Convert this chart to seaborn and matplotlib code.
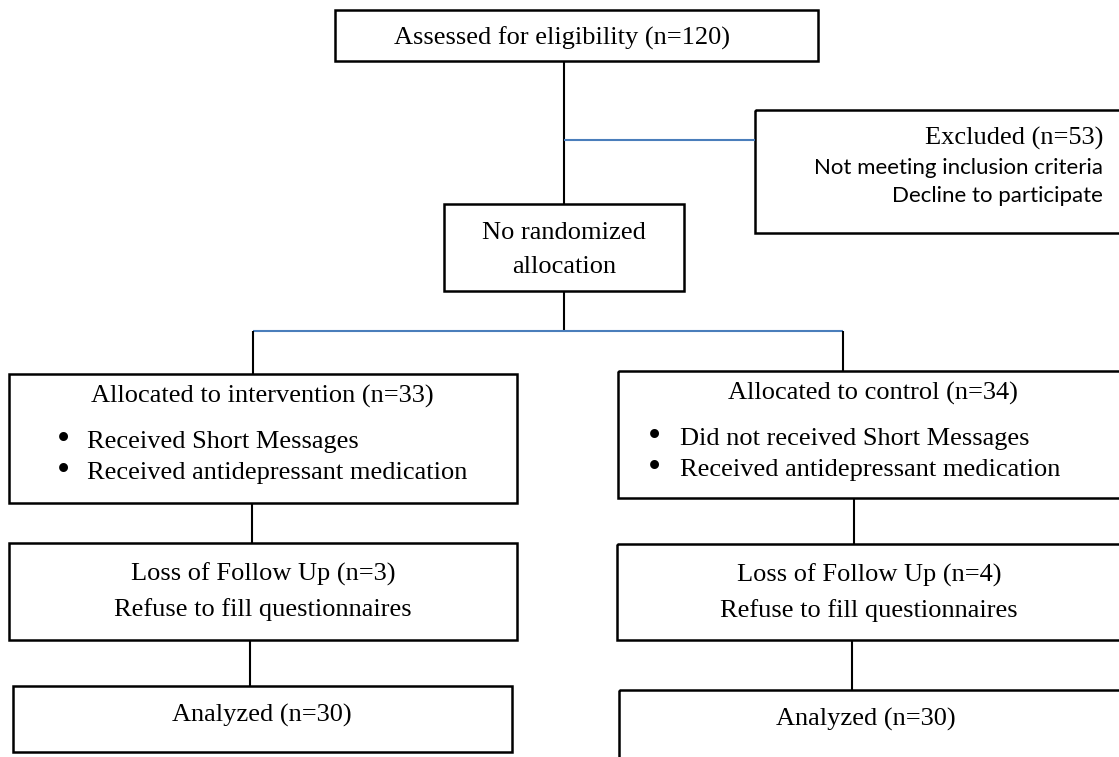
import matplotlib
matplotlib.use("Agg")
import matplotlib.pyplot as plt
from matplotlib.patches import Rectangle
import seaborn as sns

# ---- content (data) ----
n_assessed = 120
n_excluded = 53
excluded_reasons = ["Not meeting inclusion criteria", "Decline to participate"]
allocation_label = ["No randomized", "allocation"]
arm_names = ["intervention", "control"]
arm_n = [33, 34]
arm_items = [["Received Short Messages", "Received antidepressant medication"],
             ["Did not received Short Messages", "Received antidepressant medication"]]
loss_n = [3, 4]
loss_reason = "Refuse to fill questionnaires"
analyzed_n = [30, 30]

sns.set_theme(style="white")
plt.rcParams["font.family"] = ["Liberation Serif", "DejaVu Serif"]

W, H = 1119, 757
fig = plt.figure(figsize=(W / 100, H / 100), dpi=100)
ax = fig.add_axes([0, 0, 1, 1])
ax.set_xlim(0, W)
ax.set_ylim(H, 0)
ax.axis("off")

FS = 19
SANS_FS = 16
BLUE = "#4a7ebb"
BOX_LW = 1.8
LINE_LW = 1.5


def box(x0, y0, x1, y1):
    ax.add_patch(Rectangle((x0, y0), x1 - x0, y1 - y0, fill=False,
                           edgecolor="black", lw=BOX_LW, clip_on=True))


def vline(x, y0, y1, color="black"):
    ax.plot([x, x], [y0, y1], color=color, lw=LINE_LW, solid_capstyle="butt")


def hline(y, x0, x1, color=BLUE):
    ax.plot([x0, x1], [y, y], color=color, lw=LINE_LW, solid_capstyle="butt")


def txt(x, y, s, ha="center", fs=FS, family=None):
    kw = {}
    if family is not None:
        kw["family"] = family
    ax.text(x, y, s, ha=ha, va="baseline", fontsize=fs, color="black", **kw)


# Top box
box(335, 10, 818, 61)
txt(562, 45, f"Assessed for eligibility (n={n_assessed})")

# Connectors from top
vline(564, 61, 204)
hline(140, 564, 755)

# Excluded box
box(755, 110, 1130, 233)
txt(1103, 145, f"Excluded (n={n_excluded})", ha="right")
for i, r in enumerate(excluded_reasons):
    txt(1103, 174 + 28 * i, r, ha="right", fs=SANS_FS, family=["Lato", "DejaVu Sans"])

# No randomized allocation box
box(444, 204, 684, 291)
txt(564, 239, allocation_label[0])
txt(564, 273, allocation_label[1])

vline(564, 291, 331)
hline(331, 253, 843)
vline(253, 331, 374)
vline(843, 331, 371)

# Arms
arm_geom = [
    dict(alloc=(9, 374, 517, 503), tcx=262, bx=63, tx=87,
         v1=252, loss=(9, 543, 517, 640), lcx=263, v2=250,
         ana=(13, 686, 512, 752), acx=262),
    dict(alloc=(618, 371, 1130, 498), tcx=873, bx=654, tx=680,
         v1=854, loss=(617, 544, 1130, 640), lcx=869, v2=852,
         ana=(619, 690, 1130, 770), acx=866),
]

for k, g in enumerate(arm_geom):
    a = g["alloc"]
    box(*a)
    txt(g["tcx"], a[1] + 29, f"Allocated to {arm_names[k]} (n={arm_n[k]})")
    for j, item in enumerate(arm_items[k]):
        yb = a[1] + 74 + 31 * j
        ax.text(g["bx"], yb - 7, "\u2022", ha="center", va="center",
                fontsize=27, color="black")
        txt(g["tx"], yb, item, ha="left")
    vline(g["v1"], a[3], g["loss"][1])
    l = g["loss"]
    box(*l)
    txt(g["lcx"], l[1] + 38, f"Loss of Follow Up (n={loss_n[k]})")
    txt(g["lcx"], l[1] + 73, loss_reason)
    vline(g["v2"], l[3], g["ana"][1])
    an = g["ana"]
    box(*an)
    txt(g["acx"], an[1] + 36, f"Analyzed (n={analyzed_n[k]})")

fig.savefig("out.png", dpi=100, facecolor="white")
